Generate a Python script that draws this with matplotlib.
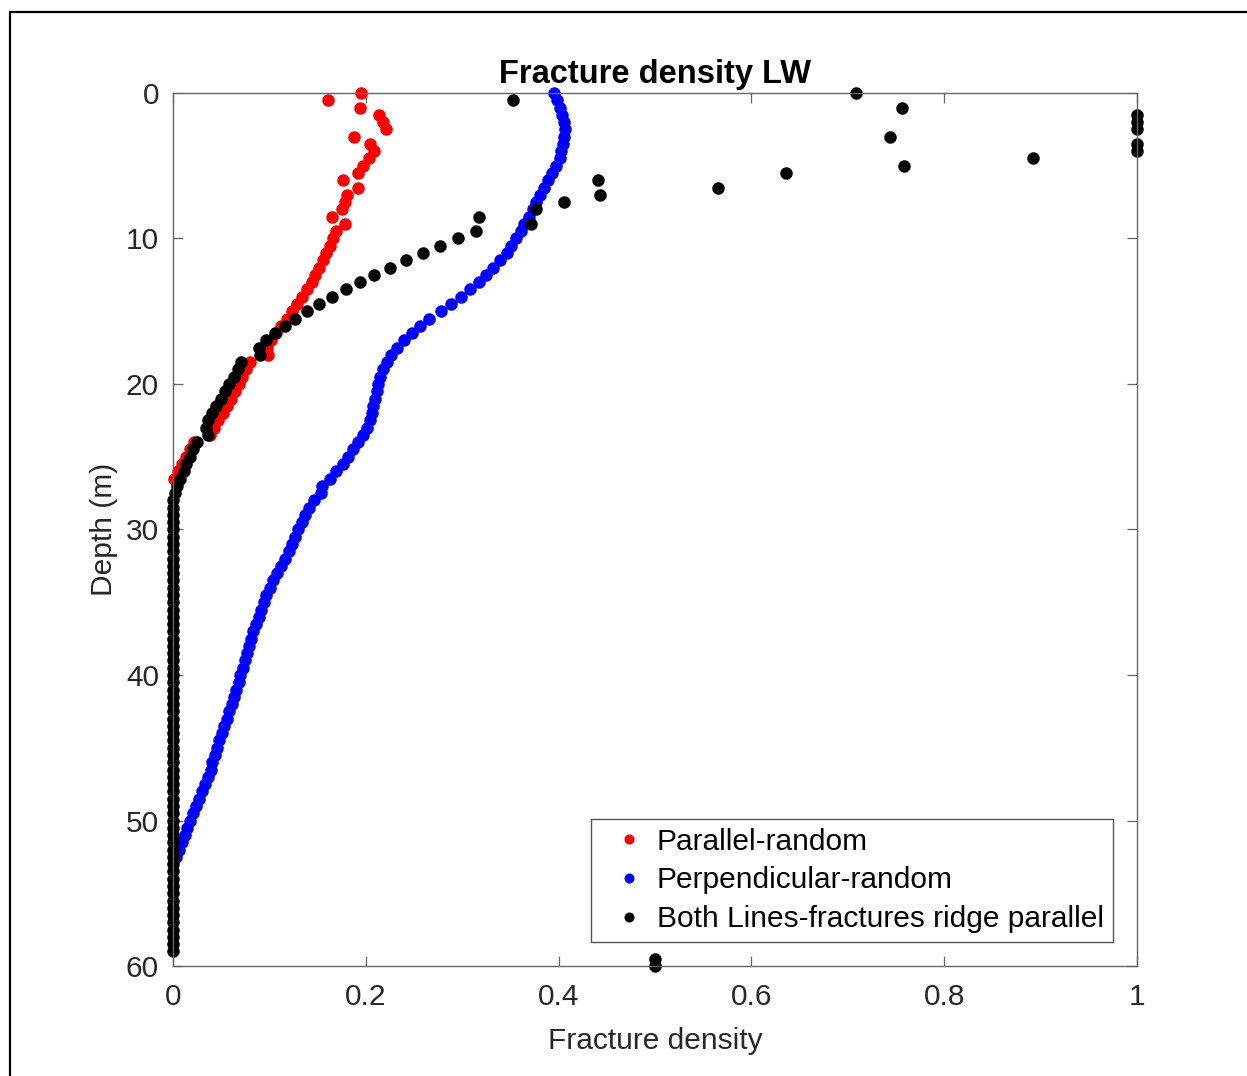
import numpy as np
import matplotlib
matplotlib.use("Agg")
import matplotlib.pyplot as plt
from matplotlib.patches import Rectangle

plt.rcParams['font.family'] = ['Liberation Sans', 'DejaVu Sans']

# depth sampling (m) is every half metre for all three profiles
depth_step = 0.5

parallel_random = [
    0.195, 0.161, 0.194, 0.214, 0.218, 0.221, 0.188, 0.204, 0.209, 0.203,
    0.197, 0.192, 0.176, 0.192, 0.181, 0.178, 0.175, 0.165, 0.178, 0.169,
    0.166, 0.163, 0.159, 0.156, 0.152, 0.147, 0.144, 0.139, 0.134, 0.129,
    0.123, 0.118, 0.112, 0.107, 0.102, 0.098, 0.099, 0.080, 0.076, 0.072,
    0.068, 0.064, 0.060, 0.056, 0.052, 0.047, 0.043, 0.038, 0.022, 0.018,
    0.014, 0.009, 0.005, 0.001,
]

perpendicular_random = [
    0.395, 0.398, 0.401, 0.404, 0.406, 0.407, 0.406, 0.405, 0.403, 0.401,
    0.397, 0.393, 0.389, 0.385, 0.381, 0.377, 0.373, 0.369, 0.364, 0.361,
    0.356, 0.351, 0.346, 0.339, 0.332, 0.325, 0.317, 0.308, 0.299, 0.288,
    0.278, 0.266, 0.256, 0.248, 0.240, 0.232, 0.226, 0.222, 0.218, 0.215,
    0.213, 0.212, 0.210, 0.208, 0.206, 0.204, 0.201, 0.197, 0.192, 0.187,
    0.182, 0.176, 0.169, 0.163, 0.155, 0.154, 0.146, 0.141, 0.137, 0.134,
    0.130, 0.127, 0.123, 0.120, 0.116, 0.112, 0.108, 0.104, 0.101, 0.097,
    0.094, 0.091, 0.089, 0.086, 0.083, 0.081, 0.079, 0.077, 0.075, 0.073,
    0.070, 0.068, 0.065, 0.063, 0.061, 0.058, 0.056, 0.053, 0.051, 0.048,
    0.046, 0.044, 0.041, 0.039, 0.036, 0.033, 0.030, 0.027, 0.024, 0.021,
    0.018, 0.015, 0.012, 0.009, 0.006, 0.003,
]

both_lines = [
    0.708, 0.353, 0.756, 1.000, 1.000, 1.000, 0.744, 1.000, 1.000, 0.892,
    0.758, 0.636, 0.441, 0.565, 0.443, 0.406, 0.377, 0.317, 0.371, 0.314,
    0.296, 0.277, 0.259, 0.242, 0.225, 0.209, 0.194, 0.179, 0.165, 0.152,
    0.139, 0.127, 0.116, 0.106, 0.097, 0.089, 0.090, 0.071, 0.067, 0.063,
    0.058, 0.054, 0.050, 0.045, 0.041, 0.036, 0.034, 0.036, 0.025, 0.021,
    0.018, 0.014, 0.011, 0.007, 0.004, 0.002,
] + [0.0] * 63 + [0.5, 0.5]

labels = ['Parallel-random', 'Perpendicular-random', 'Both Lines-fractures ridge parallel']
colors = ['#ff0000', '#0000ff', '#000000']
x_ticks = [0, 0.2, 0.4, 0.6, 0.8, 1]
x_ticklabels = ['0', '0.2', '0.4', '0.6', '0.8', '1']
y_ticks = [0, 10, 20, 30, 40, 50, 60]

fig = plt.figure(figsize=(12.47, 10.76), dpi=100)
ax = fig.add_axes([0.1387, 0.1022, 0.7731, 0.8114])

for vals, lab, col in zip([parallel_random, perpendicular_random, both_lines], labels, colors):
    d = np.arange(len(vals)) * depth_step
    ax.plot(vals, d, 'o', color=col, markersize=9.0, markeredgewidth=0,
            label=lab, clip_on=False)

ax.set_xlim(0, 1)
ax.set_ylim(60, 0)
ax.set_xticks(x_ticks)
ax.set_xticklabels(x_ticklabels)
ax.set_yticks(y_ticks)

for s in ax.spines.values():
    s.set_color('#666666')
    s.set_linewidth(1.0)
ax.tick_params(direction='in', length=7, width=0.9, color='#666666',
               top=True, right=True, labelsize=21.5, labelcolor='#262626')
ax.tick_params(axis='x', pad=12)
ax.tick_params(axis='y', pad=10)

ax.set_xlabel('Fracture density', fontsize=21.5, color='#262626', labelpad=12)
ax.set_ylabel('Depth (m)', fontsize=21.5, color='#262626', labelpad=6)
ax.set_title('Fracture density LW', fontsize=23.5, fontweight='bold', pad=7)

leg = ax.legend(loc='lower right', bbox_to_anchor=(0.975, 0.0275), borderaxespad=0,
                fontsize=21.5, markerscale=0.8, handlelength=1.9, handletextpad=0.0,
                labelspacing=0.36, borderpad=0.3, fancybox=False, framealpha=1)
leg.get_frame().set_edgecolor('#555555')
leg.get_frame().set_linewidth(1.0)
for t in leg.get_texts():
    t.set_color('#000000')

# outer border of the exported figure (left and top edges visible)
fig.add_artist(Rectangle((10 / 1247, -0.05), 1.1, 1.05 - 12 / 1076,
                         transform=fig.transFigure, fill=False,
                         edgecolor='black', linewidth=1.6))

fig.savefig('out.png', dpi=100)
